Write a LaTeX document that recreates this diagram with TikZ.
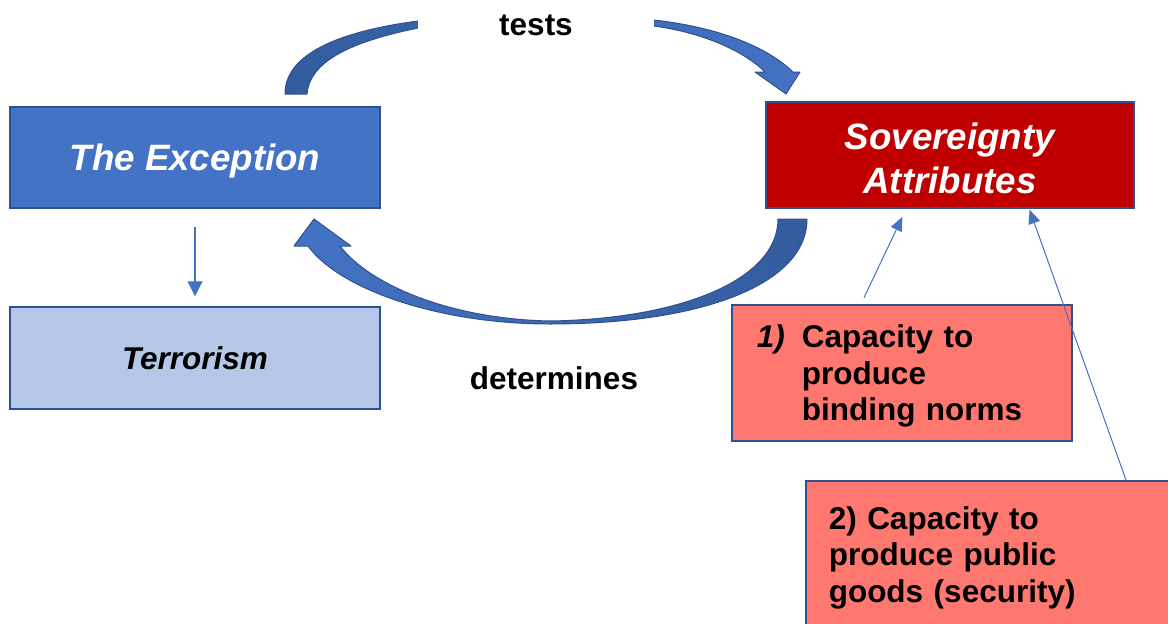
\documentclass[tikz,border=0pt]{standalone}
\usepackage{fontspec}
\setmainfont{Liberation Sans}
\usetikzlibrary{arrows.meta,calc}
\definecolor{accblue}{HTML}{4472C4}
\definecolor{edgeblue}{HTML}{2F528F}
\definecolor{darkblue}{HTML}{335C9E}
\definecolor{paleblue}{HTML}{B4C7E7}
\definecolor{deepred}{HTML}{C00000}
\definecolor{salmon}{HTML}{FF7870}
\begin{document}
\begin{tikzpicture}[x=1pt,y=-1pt,
  box/.style={draw=edgeblue, line width=1.5pt, rectangle, inner sep=0pt},
  bigfont/.style={font=\fontsize{36.7}{44}\selectfont\bfseries\itshape},
  midfont/.style={font=\fontsize{31.5}{36.3}\selectfont\bfseries},
  miditfont/.style={font=\fontsize{31.5}{36.3}\selectfont\bfseries\itshape},
  thinarrow/.style={draw=accblue, line width=1.1pt, -{Triangle[length=15pt,width=15pt]}},
  smallarrow/.style={draw=accblue, line width=1pt, -{Triangle[length=14pt,width=12pt]}},
  blockarrow/.style={draw=edgeblue, line width=1pt, line join=round}
]
\useasboundingbox (0,0) rectangle (1168,624);
\clip (0,0) rectangle (1168,624);

% boxes
\node[box, fill=accblue, minimum width=370pt, minimum height=101pt, text=white, bigfont, text depth=0pt] (exc) at (195,157.5) {The Exception};
\node[box, fill=paleblue, minimum width=370pt, minimum height=102pt, miditfont] (ter) at (195,358) {Terrorism};
\node[box, fill=deepred, text width=368pt, minimum height=106pt, text=white, bigfont, align=center, text depth=37pt] (sov) at (950,155) {Sovereignty\\Attributes};
\node[box, fill=salmon, minimum height=136pt, text width=290pt, inner xsep=25pt, align=left, midfont, text depth=72.6pt, anchor=north west] (b1) at (731,304)
  {\makebox[45pt][l]{\itshape 1)}Capacity to\\\hspace*{45pt}produce\\\hspace*{45pt}binding norms};
\node[box, fill=salmon, text width=340pt, inner xsep=23pt, inner ysep=26pt, align=left, midfont, anchor=north west] (b2) at (805,480)
  {2) Capacity to\\produce public\\goods (security)};

% block arrow: tests
\path[blockarrow, left color=darkblue, right color=accblue]
 (285,94) .. controls (285,50) and (350,30) .. (418,21)
 .. controls (490,11) and (590,11) .. (654,20)
 .. controls (715,27) and (765,45) .. (793,72)
 -- (800,72) -- (786,94) -- (755,72) -- (765,72)
 .. controls (745,52) and (705,33) .. (654,26)
 .. controls (590,17) and (490,17) .. (418,28)
 .. controls (360,40) and (310,58) .. (307,94) -- cycle;

% block arrow: determines
\path[blockarrow, left color=accblue, right color=darkblue]
 (807,219) .. controls (807,285) and (700,324) .. (550,324)
 .. controls (440,324) and (340,290) .. (308,246)
 -- (294,246) -- (314,219) -- (351,246) -- (340,246)
 .. controls (370,285) and (450,319) .. (550,321)
 .. controls (680,319) and (778,280) .. (778,219) -- cycle;

% labels
\node[fill=white, minimum width=236pt, minimum height=50pt, inner sep=0pt, midfont] (tests) at (536,25) {tests};
\node[anchor=base, inner sep=0pt, midfont] (det) at (554,389) {determines};

% thin arrows
\draw[thinarrow, shorten <=18pt, shorten >=10pt] (exc.south) -- (ter.north);
\draw[smallarrow, shorten <=7pt, shorten >=9pt] ($(b1.north west)+(130,0)$) -- ($(sov.south west)+(141,0)$);
\draw[smallarrow, shorten >=1pt] ($(b2.north west)+(321,0)$) -- ($(sov.south west)+(264,0)$);
\end{tikzpicture}
\end{document}
